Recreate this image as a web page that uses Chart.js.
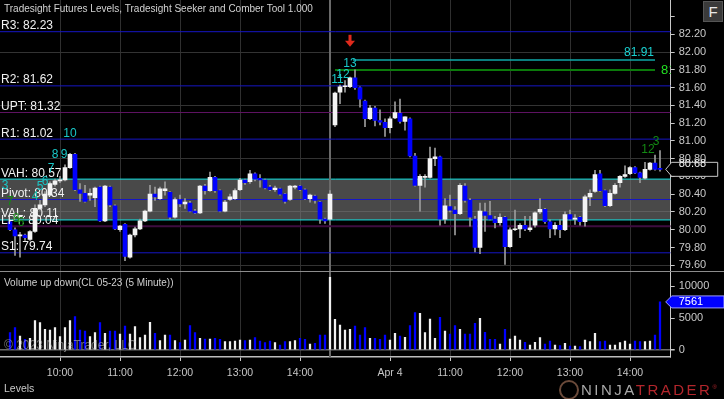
<!DOCTYPE html>
<html>
<head>
<meta charset="utf-8">
<script src="https://cdn.jsdelivr.net/npm/chart.js@4.4.1/dist/chart.umd.min.js"></script>
<style>
body { margin: 0; background: #000; width: 724px; height: 399px; overflow: hidden; position: relative; font-family: "Liberation Sans", Arial, sans-serif; }
#price { position: absolute; left: 0; top: 0; }
#vol { position: absolute; left: 0; top: 272px; }
.sep { position: absolute; left: 0; top: 271px; width: 724px; height: 1px; background: #8c8c8c; }
.fbtn { position: absolute; left: 703px; top: 1px; width: 20px; height: 21px; background: #3a3a3a; border: 1px solid #555; box-sizing: border-box; color: #e8e8e8; font-size: 15px; line-height: 19px; text-align: center; }
.levels { position: absolute; left: 4px; top: 382px; color: #c8c8c8; font-size: 10.5px; }
.logo { position: absolute; left: 581px; top: 381px; font-size: 15px; letter-spacing: 2.5px; color: #a8a8a8; }
.logo span { color: #b3262c; }
.logo sup { font-size: 6px; color: #b3262c; letter-spacing: 0; }
.swirl { position: absolute; left: 559px; top: 380px; width: 16px; height: 16px; border-radius: 50%; border: 2px solid #6b4a3a; }
</style>
</head>
<body>
<canvas id="price" width="724" height="271"></canvas>
<div class="sep"></div>
<canvas id="vol" width="724" height="127"></canvas>
<div class="fbtn">F</div>
<div class="levels">Levels</div>
<div class="swirl"></div>
<div class="logo">NINJA<span>TRADER</span><sup>®</sup></div>
<script>
// 5-minute bars, CL 05-23, Apr 3 09:10 .. 14:30 then Apr 4 09:05 .. 14:30
const firstSlot = 2;
const open = [
  80.09, 80.00, 79.93, 79.94, 79.89, 79.98, 80.24, 80.28, 80.39, 80.51, 80.55, 80.56, 80.70, 80.85, 80.45, 80.41,
  80.39, 80.36, 80.48, 80.10, 80.48, 80.27, 80.00, 80.06, 79.69, 79.94, 80.01, 80.10, 80.21, 80.40, 80.35, 80.44,
  80.42, 80.14, 80.34, 80.29, 80.30, 80.21, 80.19, 80.49, 80.44, 80.59, 80.44, 80.21, 80.34, 80.35, 80.45, 80.56,
  80.54, 80.63, 80.58, 80.56, 80.48, 80.45, 80.46, 80.40, 80.34, 80.48, 80.49, 80.45, 80.35, 80.38, 80.31, 80.12, 80.12,
  81.18, 81.55, 81.61, 81.61, 81.71, 81.60, 81.45, 81.25, 81.37, 81.23, 81.21, 81.15, 81.26, 81.31, 81.22, 81.25,
  80.83, 80.50, 80.59, 80.59, 80.80, 80.82, 80.12, 80.26, 80.22, 80.18, 80.49, 80.33, 80.12, 79.80, 80.20, 80.16,
  80.12, 80.08, 80.14, 79.81, 80.00, 80.01, 80.05, 80.00, 80.05, 80.20, 80.23, 80.09, 80.01, 80.05, 80.00, 80.17,
  80.12, 80.14, 80.09, 80.37, 80.43, 80.63, 80.44, 80.27, 80.41, 80.53, 80.60, 80.63, 80.70, 80.64, 80.58, 80.68,
  80.75, 80.69
];
const high = [
  80.11, 80.02, 79.97, 79.95, 79.99, 80.28, 80.33, 80.43, 80.54, 80.57, 80.60, 80.73, 80.86, 80.86, 80.52, 80.50,
  80.46, 80.48, 80.49, 80.50, 80.49, 80.28, 80.05, 80.07, 79.95, 80.03, 80.12, 80.22, 80.50, 80.48, 80.48, 80.54,
  80.43, 80.36, 80.39, 80.35, 80.32, 80.23, 80.50, 80.51, 80.65, 80.60, 80.45, 80.33, 80.40, 80.46, 80.58, 80.57,
  80.67, 80.64, 80.62, 80.57, 80.50, 80.49, 80.47, 80.41, 80.50, 80.50, 80.50, 80.46, 80.40, 80.39, 80.32, 80.13, 80.44,
  81.55, 81.63, 81.68, 81.72, 81.80, 81.61, 81.46, 81.40, 81.39, 81.35, 81.25, 81.27, 81.44, 81.47, 81.27, 81.26,
  80.86, 80.62, 80.62, 80.93, 80.92, 80.83, 80.35, 80.39, 80.26, 80.52, 80.52, 80.35, 80.15, 80.30, 80.30, 80.32,
  80.15, 80.18, 80.15, 80.02, 80.22, 80.07, 80.15, 80.15, 80.20, 80.35, 80.24, 80.11, 80.08, 80.11, 80.20, 80.22,
  80.17, 80.15, 80.39, 80.45, 80.67, 80.67, 80.45, 80.45, 80.52, 80.61, 80.72, 80.71, 80.71, 80.65, 80.76, 80.76,
  80.84, 80.89
];
const low = [
  79.99, 79.71, 79.69, 79.88, 79.88, 79.97, 80.22, 80.26, 80.38, 80.49, 80.53, 80.55, 80.69, 80.44, 80.32, 80.31,
  80.33, 80.26, 80.09, 80.09, 80.26, 80.00, 79.98, 79.65, 79.68, 79.92, 80.00, 80.09, 80.20, 80.33, 80.34, 80.39,
  80.12, 80.13, 80.26, 80.24, 80.20, 80.18, 80.18, 80.40, 80.43, 80.42, 80.20, 80.20, 80.33, 80.34, 80.44, 80.51,
  80.52, 80.55, 80.48, 80.46, 80.44, 80.43, 80.39, 80.30, 80.33, 80.46, 80.44, 80.34, 80.31, 80.30, 80.07, 80.07, 80.11,
  81.16, 81.42, 81.55, 81.60, 81.58, 81.38, 81.16, 81.24, 81.17, 81.18, 81.05, 81.09, 81.25, 81.20, 81.12, 80.82,
  80.49, 80.21, 80.48, 80.58, 80.72, 80.05, 80.07, 80.20, 79.94, 80.17, 80.31, 80.04, 79.75, 79.73, 79.98, 80.11,
  80.02, 80.05, 79.61, 79.80, 79.99, 79.91, 79.99, 79.98, 80.03, 80.18, 80.07, 79.91, 79.94, 79.91, 79.99, 80.11,
  80.06, 80.05, 80.04, 80.27, 80.42, 80.43, 80.26, 80.26, 80.40, 80.48, 80.59, 80.62, 80.63, 80.53, 80.57, 80.67,
  80.67, 80.66
];
const close = [
  80.00, 79.93, 79.94, 79.91, 79.98, 80.24, 80.28, 80.40, 80.52, 80.55, 80.56, 80.70, 80.85, 80.45, 80.41, 80.32,
  80.41, 80.47, 80.10, 80.49, 80.28, 80.01, 80.04, 79.70, 79.94, 80.01, 80.10, 80.21, 80.40, 80.37, 80.46, 80.46,
  80.14, 80.34, 80.29, 80.31, 80.21, 80.19, 80.49, 80.44, 80.59, 80.44, 80.21, 80.31, 80.37, 80.44, 80.56, 80.53,
  80.63, 80.57, 80.56, 80.47, 80.45, 80.47, 80.40, 80.32, 80.49, 80.49, 80.45, 80.35, 80.39, 80.33, 80.12, 80.10, 80.40,
  81.54, 81.61, 81.62, 81.71, 81.60, 81.47, 81.25, 81.37, 81.23, 81.21, 81.15, 81.25, 81.32, 81.22, 81.27, 80.83,
  80.50, 80.60, 80.60, 80.80, 80.82, 80.12, 80.27, 80.22, 80.18, 80.50, 80.33, 80.14, 79.80, 80.21, 80.16, 80.12,
  80.08, 80.14, 79.81, 80.00, 80.01, 80.05, 80.01, 80.02, 80.19, 80.23, 80.09, 80.01, 80.05, 80.00, 80.17, 80.12,
  80.13, 80.09, 80.37, 80.41, 80.62, 80.44, 80.27, 80.41, 80.50, 80.60, 80.62, 80.70, 80.64, 80.59, 80.68, 80.75,
  80.68, 80.68
];
const volume = [
  2725, 3510, 2200, 1680, 1830, 4610, 4300, 3250, 3140, 3510, 2100, 3510, 4610, 5240, 3140, 2990,
  2100, 2725, 4300, 2620, 2990, 2990, 2515, 3770, 2515, 3670, 1940, 2360, 4350, 2620, 1470, 2360,
  2360, 1470, 1150, 1570, 3825, 2725, 1830, 1730, 1730, 1830, 1680, 1310, 1310, 1415, 1570, 1470,
  1570, 1940, 1415, 1150, 1415, 1150, 790, 1310, 1310, 1470, 1830, 1680, 940, 1050, 2360, 2360, 11420,
  4820, 3930, 3140, 3250, 3770, 2360, 3510, 1830, 1830, 1680, 2360, 1570, 2620, 2200, 1990, 3825,
  5870, 5760, 2725, 4870, 1830, 5135, 2990, 2515, 3825, 3250, 2515, 2515, 4190, 4980, 2780, 1680,
  1680, 940, 3250, 1730, 2200, 1570, 1200, 790, 1200, 1940, 940, 1415, 790, 680, 1050, 630,
  630, 520, 1570, 1310, 2620, 1310, 1415, 790, 790, 1150, 1415, 940, 1415, 1310, 1310, 1415,
  2360, 7561
];

const tickSlots = [12, 24, 36, 48, 60, 78, 90, 102, 114, 126];
const tickLabels = ['10:00', '11:00', '12:00', '13:00', '14:00', 'Apr 4', '11:00', '12:00', '13:00', '14:00'];
const sessionBreak = 66;
const priceTicks = [79.6, 79.8, 80.0, 80.2, 80.4, 80.6, 80.8, 81.0, 81.2, 81.4, 81.6, 81.8, 82.0, 82.2, 82.4];
const priceGrid = [79.6, 80.2, 80.8, 81.4, 82.0];
const volTicks = [0, 5000, 10000];

const levelNames = ['R3', 'R2', 'UPT', 'R1', 'VAH', 'Pivot', 'VAL', 'LPT', 'S1'];
const levelValues = [82.23, 81.62, 81.32, 81.02, 80.57, 80.34, 80.11, 80.04, 79.74];
const levelColors = ['#1616c4', '#1616c4', '#5e1262', '#1616c4', '#10e0e0', '#1616c4', '#10e0e0', '#3e0c40', '#1616c4'];
const levelWidths = [1, 1, 1, 1, 1, 1, 1, 2, 1];

// Seeker / Comber counts: [slot, price, text, colour]
const counts = [
  [1, 80.50, '3', '#19c8c8'], [8, 80.49, '5', '#19c8c8'], [9, 80.54, '6', '#19c8c8'], [10.2, 80.69, '7', '#19c8c8'],
  [11, 80.84, '8', '#19c8c8'], [12.8, 80.85, '9', '#19c8c8'], [14, 81.08, '10', '#19c8c8'],
  [2, 80.31, '7', '#138a13'], [7, 80.37, '4', '#19b8a8'], [4.2, 80.08, '6', '#138a13'], [3.2, 80.12, '8', '#138a13'],
  [67.5, 81.69, '11', '#19c8c8'], [68.6, 81.75, '12', '#19c8c8'], [70, 81.87, '13', '#19c8c8'],
  [129.6, 80.90, '12', '#138a13'], [131.2, 80.99, '3', '#138a13']
];
const targetHigh = 81.91, targetHighFrom = 70.6;
const targetLow = 81.80, targetLowFrom = 67;
const targetTo = 131;
const arrowSlot = 70, arrowPrice = 82.06;
const lastPrice = 80.68;

const xMin = 0, xMax = 134.14;
const priceMin = 79.535, priceMax = 82.587;
const volMin = -1101, volMax = 12264;

const sans = '"Liberation Sans", Arial, sans-serif';
Chart.defaults.font.family = sans;
Chart.defaults.font.size = 10;
Chart.defaults.color = '#c8c8c8';

const slots = open.map((_, i) => i + firstSlot);
const isUp = open.map((o, i) => close[i] >= o);
const bodyColors = isUp.map(u => u ? '#f4f4f4' : '#0000ff');

function flatLine(value, from, to, color, width, order) {
  return {
    type: 'line', data: [{ x: from, y: value }, { x: to, y: value }],
    borderColor: color, borderWidth: width, pointRadius: 0, fill: false, order: order
  };
}

function noPad(s) {
  s.paddingTop = 0; s.paddingBottom = 0; s.paddingLeft = 0; s.paddingRight = 0;
}

const vahIdx = levelNames.indexOf('VAH');
const valIdx = levelNames.indexOf('VAL');
const priceDatasets = levelValues.map((v, i) => flatLine(v, xMin, xMax, levelColors[i], levelWidths[i], 10));
priceDatasets[vahIdx].fill = { target: valIdx };
priceDatasets[vahIdx].backgroundColor = 'rgba(125,125,125,0.58)';
priceDatasets[vahIdx].order = 20;
priceDatasets.push(flatLine(targetHigh, targetHighFrom, targetTo, '#0fa8a8', 1.5, 9));
priceDatasets.push(flatLine(targetLow, targetLowFrom, targetTo, '#0b7a0b', 2, 9));
priceDatasets.push({
  type: 'line', data: [{ x: sessionBreak, y: priceMin }, { x: sessionBreak, y: priceMax }],
  borderColor: '#6a6a6a', borderWidth: 2, pointRadius: 0, order: 15
});
priceDatasets.push({
  type: 'bar', data: slots.map((s, i) => ({ x: s, y: [low[i], high[i]] })),
  backgroundColor: '#9c9c9c', barThickness: 1, grouped: false, order: 2
});
priceDatasets.push({
  type: 'bar', data: slots.map((s, i) => ({ x: s, y: [open[i], close[i]] })),
  backgroundColor: bodyColors, barThickness: 4, minBarLength: 1, grouped: false, order: 1
});

const priceText = {
  id: 'priceText',
  afterDatasetsDraw(chart) {
    const { ctx, scales: { x, y } } = chart;
    ctx.save();
    ctx.fillStyle = '#d2d2d2';
    ctx.font = '10px ' + sans;
    ctx.fillText('Tradesight Futures Levels, Tradesight Seeker and Comber Tool 1.000', 4, 12);

    ctx.font = '12px ' + sans;
    ctx.fillStyle = '#f2f2f2';
    levelNames.forEach((n, i) => {
      ctx.fillText(n + ': ' + levelValues[i].toFixed(2), 1, y.getPixelForValue(levelValues[i]) - 2.5);
    });

    ctx.textAlign = 'center';
    ctx.textBaseline = 'middle';
    counts.forEach(c => {
      ctx.fillStyle = c[3];
      ctx.fillText(c[2], x.getPixelForValue(c[0]), y.getPixelForValue(c[1]));
    });

    ctx.textAlign = 'right';
    ctx.textBaseline = 'bottom';
    ctx.fillStyle = '#19d0d0';
    ctx.fillText(targetHigh.toFixed(2), x.getPixelForValue(targetTo) - 1, y.getPixelForValue(targetHigh) - 1);

    ctx.save();
    ctx.beginPath();
    ctx.rect(0, 0, chart.chartArea.right, chart.height);
    ctx.clip();
    ctx.textAlign = 'left';
    ctx.textBaseline = 'middle';
    ctx.fillStyle = '#22e022';
    ctx.font = '13px ' + sans;
    ctx.fillText(targetLow.toFixed(2), x.getPixelForValue(targetTo) + 6, y.getPixelForValue(targetLow) + 1);
    ctx.restore();

    // red arrow above the high
    const ax = x.getPixelForValue(arrowSlot), ay = y.getPixelForValue(arrowPrice);
    ctx.fillStyle = '#e02a1c';
    ctx.fillRect(ax - 1.5, ay - 12, 3, 7);
    ctx.beginPath();
    ctx.moveTo(ax - 5, ay - 6); ctx.lineTo(ax + 5, ay - 6); ctx.lineTo(ax, ay);
    ctx.closePath(); ctx.fill();

    // last price marker
    const py = y.getPixelForValue(lastPrice), px = chart.chartArea.right - 5;
    ctx.beginPath();
    ctx.moveTo(px, py); ctx.lineTo(px + 6, py - 7); ctx.lineTo(px + 52, py - 7);
    ctx.lineTo(px + 52, py + 7); ctx.lineTo(px + 6, py + 7); ctx.closePath();
    ctx.fillStyle = '#000'; ctx.fill();
    ctx.strokeStyle = '#c8c8c8'; ctx.lineWidth = 1; ctx.stroke();
    ctx.fillStyle = '#f0f0f0';
    ctx.font = '11px ' + sans;
    ctx.textAlign = 'left';
    ctx.fillText(lastPrice.toFixed(2), px + 13, py + 0.5);
    ctx.restore();
  }
};

new Chart(document.getElementById('price'), {
  type: 'bar',
  data: { datasets: priceDatasets },
  options: {
    responsive: false, animation: false,
    layout: { padding: 0 },
    plugins: { legend: { display: false }, tooltip: { enabled: false } },
    scales: {
      x: {
        type: 'linear', min: xMin, max: xMax, offset: false,
        afterBuildTicks: s => { s.ticks = tickSlots.map(v => ({ value: v })); },
        ticks: { display: false },
        grid: { color: '#2f2f2f', drawTicks: false, offset: false },
        border: { display: false },
        afterFit: s => { s.height = 0; noPad(s); }
      },
      y: {
        type: 'linear', position: 'right', min: priceMin, max: priceMax,
        afterBuildTicks: s => { s.ticks = priceTicks.map(v => ({ value: v })); },
        ticks: { color: '#c8c8c8', padding: 4, font: { size: 11 }, callback: v => v > 82.3 ? '' : v.toFixed(2) },
        grid: {
          color: c => priceGrid.some(g => Math.abs(g - c.tick.value) < 1e-6) ? '#333333' : 'rgba(0,0,0,0)',
          tickColor: '#c8c8c8', tickLength: 4
        },
        border: { color: '#c8c8c8' },
        afterFit: s => { s.width = 53.3; noPad(s); }
      }
    }
  },
  plugins: [priceText]
});

const volText = {
  id: 'volText',
  afterDatasetsDraw(chart) {
    const { ctx, scales: { y } } = chart;
    ctx.save();
    ctx.font = '10px ' + sans;
    ctx.fillStyle = '#cfcfcf';
    ctx.fillText('Volume up down(CL 05-23 (5 Minute))', 4, 14);
    ctx.fillStyle = 'rgba(200,200,200,0.55)';
    ctx.font = '12px ' + sans;
    ctx.fillText('\u00a9 2023 NinjaTrader, LLC', 4, 77);

    const last = volume[volume.length - 1];
    const vy = y.getPixelForValue(last), vx = chart.chartArea.right - 5;
    ctx.beginPath();
    ctx.moveTo(vx, vy); ctx.lineTo(vx + 6, vy - 6); ctx.lineTo(724, vy - 6);
    ctx.lineTo(724, vy + 6); ctx.lineTo(vx + 6, vy + 6); ctx.closePath();
    ctx.fillStyle = '#0000ff'; ctx.fill();
    ctx.strokeStyle = '#9a9aff'; ctx.lineWidth = 1; ctx.stroke();
    ctx.fillStyle = '#ffffff';
    ctx.font = '11px ' + sans;
    ctx.textBaseline = 'middle';
    ctx.fillText(String(last), vx + 13, vy + 0.5);
    ctx.restore();
  }
};

new Chart(document.getElementById('vol'), {
  type: 'bar',
  data: {
    datasets: [
      {
        type: 'line', data: [{ x: sessionBreak, y: volMin }, { x: sessionBreak, y: volMax }],
        borderColor: '#6a6a6a', borderWidth: 2, pointRadius: 0, order: 5
      },
      {
        type: 'bar', data: slots.map((s, i) => ({ x: s, y: volume[i] })),
        backgroundColor: isUp.map(u => u ? '#f0f0f0' : '#0000ff'),
        barThickness: 1.6, grouped: false, order: 1
      }
    ]
  },
  options: {
    responsive: false, animation: false,
    layout: { padding: 0 },
    plugins: { legend: { display: false }, tooltip: { enabled: false } },
    scales: {
      x: {
        type: 'linear', min: xMin, max: xMax, offset: false,
        afterBuildTicks: s => { s.ticks = tickSlots.map(v => ({ value: v })); },
        ticks: { color: '#c8c8c8', padding: 6, font: { size: 10.5 }, maxRotation: 0, autoSkip: false, callback: (v, i) => tickLabels[i] },
        grid: { color: '#2f2f2f', tickColor: '#c8c8c8', tickLength: 4, offset: false },
        border: { color: '#bdbdbd', width: 1.5 },
        afterFit: s => { s.height = 42; noPad(s); }
      },
      y: {
        type: 'linear', position: 'right', min: volMin, max: volMax,
        afterBuildTicks: s => { s.ticks = volTicks.map(v => ({ value: v })); },
        ticks: { color: '#c8c8c8', padding: 4, font: { size: 11 }, callback: v => String(v) },
        grid: {
          color: c => c.tick.value === 0 ? '#6a6a6a' : 'rgba(0,0,0,0)',
          lineWidth: c => c.tick.value === 0 ? 1.5 : 1,
          tickColor: '#c8c8c8', tickLength: 4
        },
        border: { color: '#c8c8c8' },
        afterFit: s => { s.width = 53.3; noPad(s); }
      }
    }
  },
  plugins: [volText]
});
</script>
</body>
</html>
